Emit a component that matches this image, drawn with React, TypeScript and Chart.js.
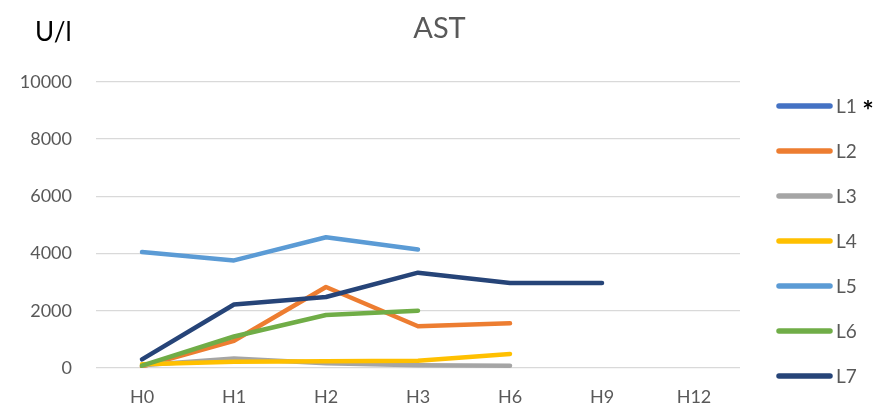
import React, { useEffect, useRef } from "react";
import { Chart, registerables } from "chart.js";

Chart.register(...registerables);

const categories = ["H0", "H1", "H2", "H3", "H6", "H9", "H12"];
const seriesNames = ["L1", "L2", "L3", "L4", "L5", "L6", "L7"];
const seriesColors = ["#4472C4", "#ED7D31", "#A5A5A5", "#FFC000", "#5B9BD5", "#70AD47", "#264478"];

const L1: (number | null)[] = [null, null, null, null, null, null, null];
const L2: (number | null)[] = [50, 950, 2830, 1460, 1560, null, null];
const L3: (number | null)[] = [100, 330, 170, 100, 80, null, null];
const L4: (number | null)[] = [130, 220, 240, 250, 490, null, null];
const L5: (number | null)[] = [4050, 3760, 4570, 4140, null, null, null];
const L6: (number | null)[] = [80, 1100, 1850, 2000, null, null, null];
const L7: (number | null)[] = [300, 2220, 2480, 3330, 2970, 2970, null];

const seriesValues = [L1, L2, L3, L4, L5, L6, L7];

const chartTitle = "AST";
const unitLabel = "U/l";
const yTickMin = 0;
const yTickMax = 10000;
const yTickStep = 2000;

const FONT = "Lato, 'Open Sans', 'Noto Sans', sans-serif";
const TEXT_GREY = "#595959";

const overlayPlugin = {
  id: "overlay",
  afterDraw(chart: any) {
    const ctx = chart.ctx;
    ctx.save();
    // unit label
    ctx.fillStyle = "#000000";
    ctx.font = `26px ${FONT}`;
    ctx.textAlign = "left";
    ctx.textBaseline = "middle";
    ctx.fillText(unitLabel, 35, 33);

    // legend
    const startY = 106;
    const stepY = 45;
    seriesNames.forEach((name, i) => {
      const y = startY + i * stepY;
      ctx.strokeStyle = seriesColors[i];
      ctx.lineWidth = 5.5;
      ctx.lineCap = "round";
      ctx.beginPath();
      ctx.moveTo(779, y);
      ctx.lineTo(830, y);
      ctx.stroke();
      ctx.fillStyle = TEXT_GREY;
      ctx.font = `19px ${FONT}`;
      ctx.textAlign = "left";
      ctx.textBaseline = "middle";
      ctx.fillText(name, 836, y + 1);
      if (i === 0) {
        ctx.fillStyle = "#000000";
        ctx.font = `bold 27px ${FONT}`;
        ctx.textAlign = "center";
        ctx.fillText("*", 868, y + 5);
      }
    });
    ctx.restore();
  },
};

export default function App() {
  const canvasRef = useRef<HTMLCanvasElement | null>(null);

  useEffect(() => {
    document.body.style.margin = "0";
    const canvas = canvasRef.current;
    if (!canvas) return;
    const chart = new Chart(canvas, {
      type: "line",
      data: {
        labels: categories,
        datasets: seriesNames.map((name, i) => ({
          label: name,
          data: seriesValues[i],
          borderColor: seriesColors[i],
          backgroundColor: seriesColors[i],
          borderWidth: 4.5,
          pointRadius: 0,
          pointHoverRadius: 0,
          tension: 0,
          borderCapStyle: "round" as const,
          borderJoinStyle: "round" as const,
          fill: false,
          order: seriesNames.length - i,
        })),
      },
      options: {
        responsive: false,
        animation: false,
        devicePixelRatio: 1,
        layout: { padding: { left: 0, right: 0, top: 0, bottom: 0 } },
        plugins: {
          legend: { display: false },
          tooltip: { enabled: false },
          title: {
            display: true,
            text: chartTitle,
            color: TEXT_GREY,
            font: { family: FONT, size: 29, weight: "normal" },
            padding: { top: 11, bottom: 36 },
          },
        },
        scales: {
          x: {
            offset: true,
            afterFit: (scale: any) => {
              scale.height = 45;
            },
            grid: { display: false, drawTicks: false },
            border: { display: false },
            ticks: {
              color: TEXT_GREY,
              font: { family: FONT, size: 18 },
              padding: 18,
              maxRotation: 0,
            },
          },
          y: {
            min: yTickMin,
            max: yTickMax,
            afterFit: (scale: any) => {
              scale.width = 96;
            },
            grid: { color: "#d9d9d9", lineWidth: 1.3, drawTicks: false },
            border: { display: false },
            ticks: {
              stepSize: yTickStep,
              color: TEXT_GREY,
              font: { family: FONT, size: 18 },
              padding: 24,
              callback: (v: any) => String(v),
            },
          },
          legendSpace: {
            type: "linear",
            position: "right",
            display: true,
            afterFit: (scale: any) => {
              scale.width = 139;
            },
            grid: { display: false, drawTicks: false },
            border: { display: false },
            ticks: { display: false },
          },
        },
      },
      plugins: [overlayPlugin],
    });
    return () => chart.destroy();
  }, []);

  return (
    <div style={{ width: 879, height: 413, position: "relative" }}>
      <canvas ref={canvasRef} width={879} height={413} style={{ display: "block" }} />
    </div>
  );
}
